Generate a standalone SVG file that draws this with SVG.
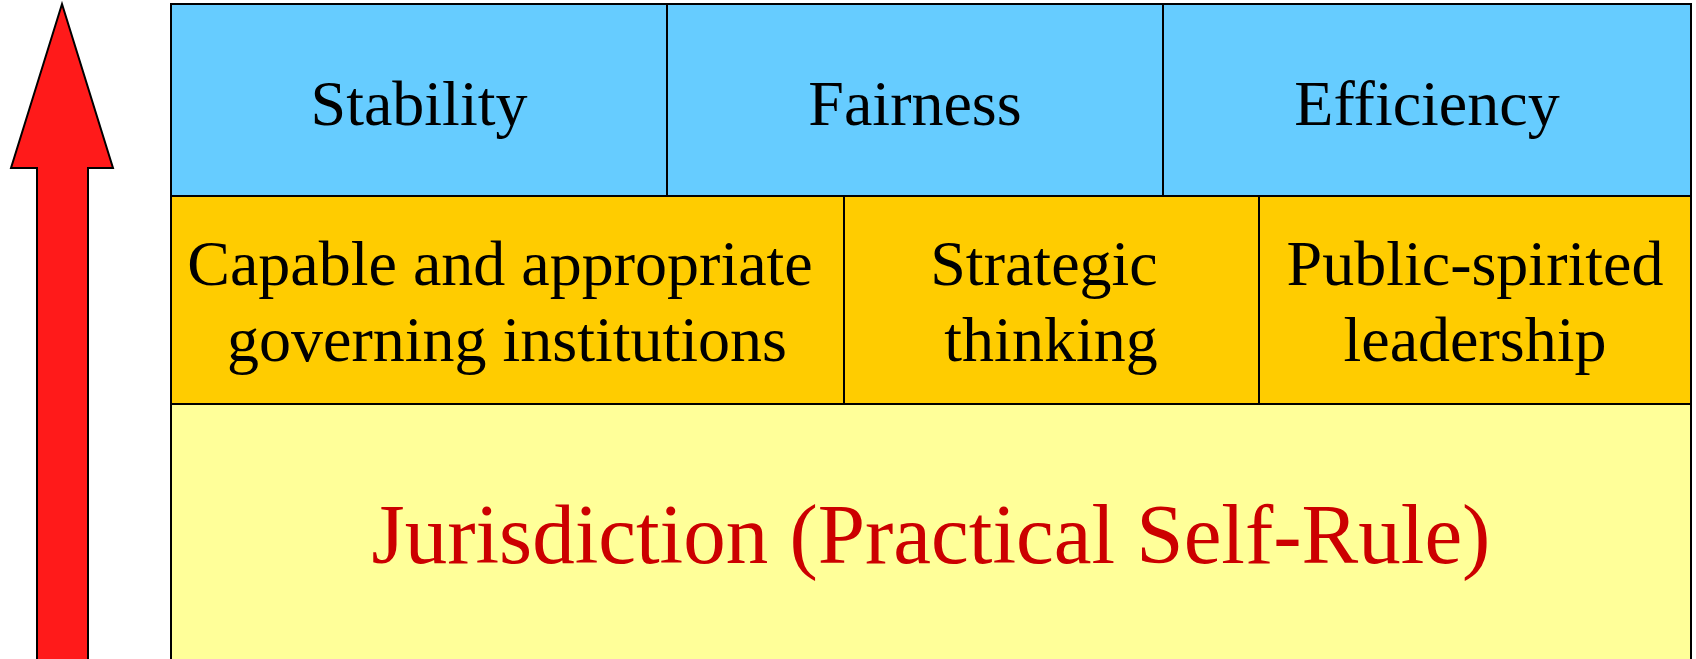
<svg xmlns="http://www.w3.org/2000/svg" width="1696" height="659" viewBox="0 0 1696 659">
<style>
.cell{stroke:#000;stroke-width:2}
.blue{fill:#66CCFF}
.orange{fill:#FFCC00}
.yellow{fill:#FFFF99}
.t{font-family:"Liberation Serif","Times New Roman",serif;font-size:64px;fill:#000;text-anchor:middle}
.big{font-family:"Liberation Serif","Times New Roman",serif;font-size:85px;fill:#CC0000;text-anchor:middle}
</style>
<rect width="1696" height="659" fill="#fff"/>
<g id="arrow">
<polygon points="62,4 113,168 88,168 88,670 37,670 37,168 11,168" fill="#FF1A1A" stroke="#000" stroke-width="2"/>
</g>
<g id="base">
<rect class="cell yellow" x="171" y="404" width="1520" height="270"/>
<text class="big" x="931" y="563">Jurisdiction (Practical Self-Rule)</text>
</g>
<g id="capable">
<rect class="cell orange" x="171" y="196" width="673" height="208"/>
<text class="t" x="500" y="285">Capable and appropriate</text>
<text class="t" x="507" y="361">governing institutions</text>
</g>
<g id="strategic">
<rect class="cell orange" x="844" y="196" width="415" height="208"/>
<text class="t" x="1044" y="285">Strategic</text>
<text class="t" x="1051" y="361">thinking</text>
</g>
<g id="public">
<rect class="cell orange" x="1259" y="196" width="432" height="208"/>
<text class="t" x="1475" y="285">Public-spirited</text>
<text class="t" x="1475" y="361">leadership</text>
</g>
<g id="stability">
<rect class="cell blue" x="171" y="4" width="496" height="192"/>
<text class="t" x="419" y="125">Stability</text>
</g>
<g id="fairness">
<rect class="cell blue" x="667" y="4" width="496" height="192"/>
<text class="t" x="915" y="125">Fairness</text>
</g>
<g id="efficiency">
<rect class="cell blue" x="1163" y="4" width="528" height="192"/>
<text class="t" x="1427" y="125">Efficiency</text>
</g>
<g id="connectors"></g>
</svg>
